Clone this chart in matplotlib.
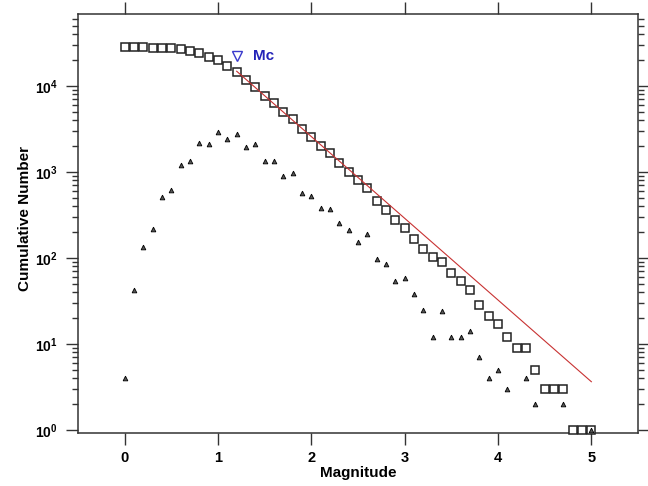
import numpy as np
import matplotlib
matplotlib.use('Agg')
import matplotlib.pyplot as plt
from matplotlib.ticker import LogLocator, FixedLocator, NullFormatter

plt.rcParams['font.family'] = ['Liberation Sans', 'DejaVu Sans']
plt.rcParams['font.weight'] = 'bold'
plt.rcParams['mathtext.fontset'] = 'custom'
plt.rcParams['mathtext.rm'] = 'Liberation Sans:bold'
plt.rcParams['mathtext.bf'] = 'Liberation Sans:bold'

# magnitude bins, 0.1 wide
magnitude = [0.0, 0.1, 0.2, 0.3, 0.4, 0.5, 0.6, 0.7, 0.8, 0.9,
             1.0, 1.1, 1.2, 1.3, 1.4, 1.5, 1.6, 1.7, 1.8, 1.9,
             2.0, 2.1, 2.2, 2.3, 2.4, 2.5, 2.6, 2.7, 2.8, 2.9,
             3.0, 3.1, 3.2, 3.3, 3.4, 3.5, 3.6, 3.7, 3.8, 3.9,
             4.0, 4.1, 4.2, 4.3, 4.4, 4.5, 4.6, 4.7, 4.8, 4.9, 5.0]

# events with M >= bin
cumulative = [28109, 28105, 28063, 27928, 27711, 27201, 26581, 25371, 24031, 21871,
              19771, 16851, 14471, 11681, 9741, 7641, 6301, 4961, 4071, 3111,
              2536, 2016, 1636, 1264, 1009, 797, 645, 457, 361, 277,
              223, 165, 127, 102, 90, 66, 54, 42, 28, 21,
              17, 12, 9, 9, 5, 3, 3, 3, 1, 1, 1]

# events per bin
per_bin = [4, 42, 135, 217, 510, 620, 1210, 1340, 2160, 2100,
           2920, 2380, 2790, 1940, 2100, 1340, 1340, 890, 960, 575,
           520, 380, 372, 255, 212, 152, 188, 96, 84, 54,
           58, 38, 25, 12, 24, 12, 12, 14, 7, 4,
           5, 3, 0, 4, 2, 0, 0, 2, 0, 0, 1]

# Gutenberg-Richter fit above completeness
mc = 1.2
mc_marker_count = 22000
a_value = 5.31
b_value = 0.95
fit_mag = [1.2, 5.0]

y_ticks = [1, 10, 100, 1000, 10000]
y_ticklabels = [r'$10^{0}$', r'$10^{1}$', r'$10^{2}$', r'$10^{3}$', r'$10^{4}$']
x_ticks = [0, 1, 2, 3, 4, 5]

fig = plt.figure(figsize=(6.48, 4.86), dpi=100, facecolor='white')
ax = fig.add_axes([0.1204, 0.1084, 0.8642, 0.8618])

m = np.array(magnitude)
nb = np.array(per_bin, dtype=float)
nb[nb <= 0] = np.nan

ax.plot(m, cumulative, 's', ms=6.2, mfc='white', mec='#222222', mew=1.1,
        linestyle='none', clip_on=False, zorder=3)
ax.plot(m, nb, '^', ms=3.4, mfc='#555555', mec='black', mew=0.6,
        linestyle='none', clip_on=False, zorder=4)

fm = np.array(fit_mag)
ax.plot(fm, 10 ** (a_value - b_value * fm), color='#c83232', lw=0.8, zorder=5)

ax.plot([mc], [mc_marker_count], 'v', ms=7, mfc='white', mec='#3a3acc', mew=1.0, zorder=6)
ax.text(mc + 0.17, mc_marker_count, 'Mc', color='#2323b8', fontsize=11,
        fontweight='bold', va='center', ha='left')

ax.set_yscale('log')
ax.set_xlim(-0.5, 5.5)
ax.set_ylim(10 ** -0.04, 10 ** 4.83)

ax.xaxis.set_major_locator(FixedLocator(x_ticks))
ax.set_xticklabels([str(t) for t in x_ticks])
ax.yaxis.set_major_locator(FixedLocator(y_ticks))
ax.set_yticklabels(y_ticklabels)
ax.yaxis.set_minor_locator(LogLocator(base=10, subs=np.arange(2, 10), numticks=20))
ax.yaxis.set_minor_formatter(NullFormatter())

ax.tick_params(axis='both', which='major', direction='out', length=8.5, width=1.0,
               color='#333333', labelsize=10, top=True, right=True)
ax.tick_params(axis='y', which='minor', direction='out', length=4.5, width=1.0,
               color='#333333', right=True)
ax.tick_params(axis='x', pad=4, labelsize=10.5)
ax.tick_params(axis='y', pad=6)
for s in ax.spines.values():
    s.set_color('#333333')
    s.set_linewidth(1.1)

ax.set_xlabel('Magnitude', fontsize=11, fontweight='bold', labelpad=1)
ax.set_ylabel('Cumulative Number', fontsize=11, fontweight='bold', labelpad=5)
ax.yaxis.set_label_coords(-0.083, 0.514)

fig.savefig('out.png', dpi=100, facecolor='white')
